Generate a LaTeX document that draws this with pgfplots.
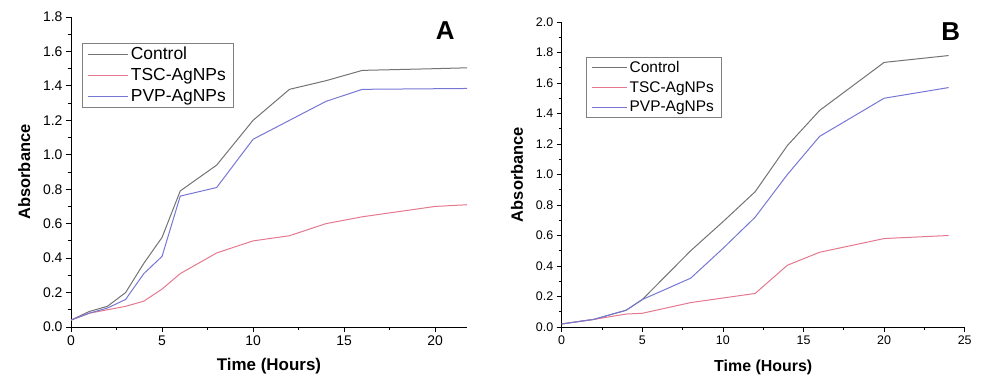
\documentclass[border=0pt]{standalone}
\usepackage{pgfplots}
\pgfplotsset{compat=1.18}
\usepackage{fontspec}
\setmainfont{Liberation Sans}
\definecolor{ctrl}{RGB}{115,115,115}
\definecolor{tsc}{RGB}{228,120,142}
\definecolor{pvp}{RGB}{118,118,212}
\begin{document}
\begin{tikzpicture}
\useasboundingbox (0bp,0bp) rectangle (981bp,379bp);
\pgfplotsset{
  every axis/.append style={
    scale only axis,
    axis lines*=left,
    tick align=outside,
    major tick length=5bp,
    minor tick length=3bp,
    tick style={black, line width=0.8pt},
    axis line style={black, line width=0.9pt},
    /pgf/number format/assume math mode=true,
    /pgf/number format/fixed,
    /pgf/number format/fixed zerofill,
    /pgf/number format/precision=1,
    xticklabel style={/pgf/number format/precision=0,/pgf/number format/fixed zerofill=false},
    ylabel style={font=\bfseries\fontsize{16.5}{16.5}\selectfont, yshift=6bp},
    legend style={draw=gray, line width=0.6pt, inner xsep=5bp, inner ysep=2bp, row sep=3.5bp,
      nodes={inner xsep=2.5bp, inner ysep=2bp}},
    legend cell align=left,
    every axis plot/.append style={line width=1bp, no marks},
  }
}
% Panel A
\begin{axis}[
  at={(71bp,52bp)}, anchor=south west,
  width=396bp, height=310bp,
  xmin=0, xmax=21.75, ymin=0, ymax=1.8,
  xtick={0,5,10,15,20}, minor xtick={2.5,7.5,12.5,17.5},
  ytick={0,0.2,...,1.8}, minor ytick={0.1,0.3,...,1.7},
  ticklabel style={font=\fontsize{14}{14}\selectfont},
  xlabel style={font=\bfseries\fontsize{17}{17}\selectfont, yshift=-6bp},
  xlabel={Time (Hours)}, ylabel={Absorbance},
  legend style={at={(axis description cs:0.028,0.917)}, anchor=north west, font=\fontsize{17.5}{21}\selectfont},
  legend image code/.code={\draw[#1] (0bp,0bp) -- (40bp,0bp);},
  clip=false,
]
\addplot[ctrl] coordinates {(0,0.04)(1,0.09)(2,0.12)(3,0.20)(4,0.37)(5,0.52)(6,0.79)(8,0.94)(10,1.20)(12,1.38)(14,1.43)(16,1.49)(20,1.50)(21.75,1.505)};
\addplot[tsc] coordinates {(0,0.04)(1,0.08)(2,0.10)(3,0.12)(4,0.15)(5,0.22)(6,0.31)(8,0.43)(10,0.50)(12,0.53)(14,0.60)(16,0.64)(20,0.70)(21.75,0.71)};
\addplot[pvp] coordinates {(0,0.04)(1,0.08)(2,0.11)(3,0.16)(4,0.31)(5,0.41)(6,0.76)(8,0.81)(10,1.09)(12,1.20)(14,1.31)(16,1.38)(21.75,1.385)};
\legend{Control,TSC-AgNPs,PVP-AgNPs}
\node[font=\bfseries\fontsize{26}{26}\selectfont] at (axis description cs:0.945,0.955) {A};
\end{axis}
% Panel B
\begin{axis}[
  at={(561.7bp,52bp)}, anchor=south west,
  width=403bp, height=305bp,
  xmin=0, xmax=25, ymin=0, ymax=2.0,
  xtick={0,5,10,15,20,25}, minor xtick={2.5,7.5,12.5,17.5,22.5},
  ytick={0,0.2,...,2.0}, minor ytick={0.1,0.3,...,1.9},
  ticklabel style={font=\fontsize{12.5}{12.5}\selectfont},
  xlabel style={font=\bfseries\fontsize{16}{16}\selectfont, yshift=-9bp},
  xlabel={Time (Hours)}, ylabel={Absorbance},
  legend style={at={(axis description cs:0.06,0.885)}, anchor=north west, font=\fontsize{15.5}{19}\selectfont},
  legend image code/.code={\draw[#1] (0bp,0bp) -- (35bp,0bp);},
  clip=false,
]
\addplot[ctrl] coordinates {(0,0.02)(2,0.05)(4,0.11)(5,0.18)(8,0.50)(10,0.69)(12,0.887)(14,1.19)(16,1.42)(20,1.735)(24,1.78)};
\addplot[tsc] coordinates {(0,0.02)(2,0.05)(4,0.085)(5,0.09)(8,0.16)(10,0.19)(12,0.22)(14,0.405)(16,0.49)(20,0.58)(24,0.60)};
\addplot[pvp] coordinates {(0,0.02)(2,0.05)(4,0.11)(5,0.18)(8,0.32)(10,0.515)(12,0.72)(14,1.0)(16,1.25)(20,1.50)(24,1.57)};
\legend{Control,TSC-AgNPs,PVP-AgNPs}
\node[font=\bfseries\fontsize{26}{26}\selectfont] at (axis description cs:0.965,0.97) {B};
\end{axis}
\end{tikzpicture}
\end{document}
